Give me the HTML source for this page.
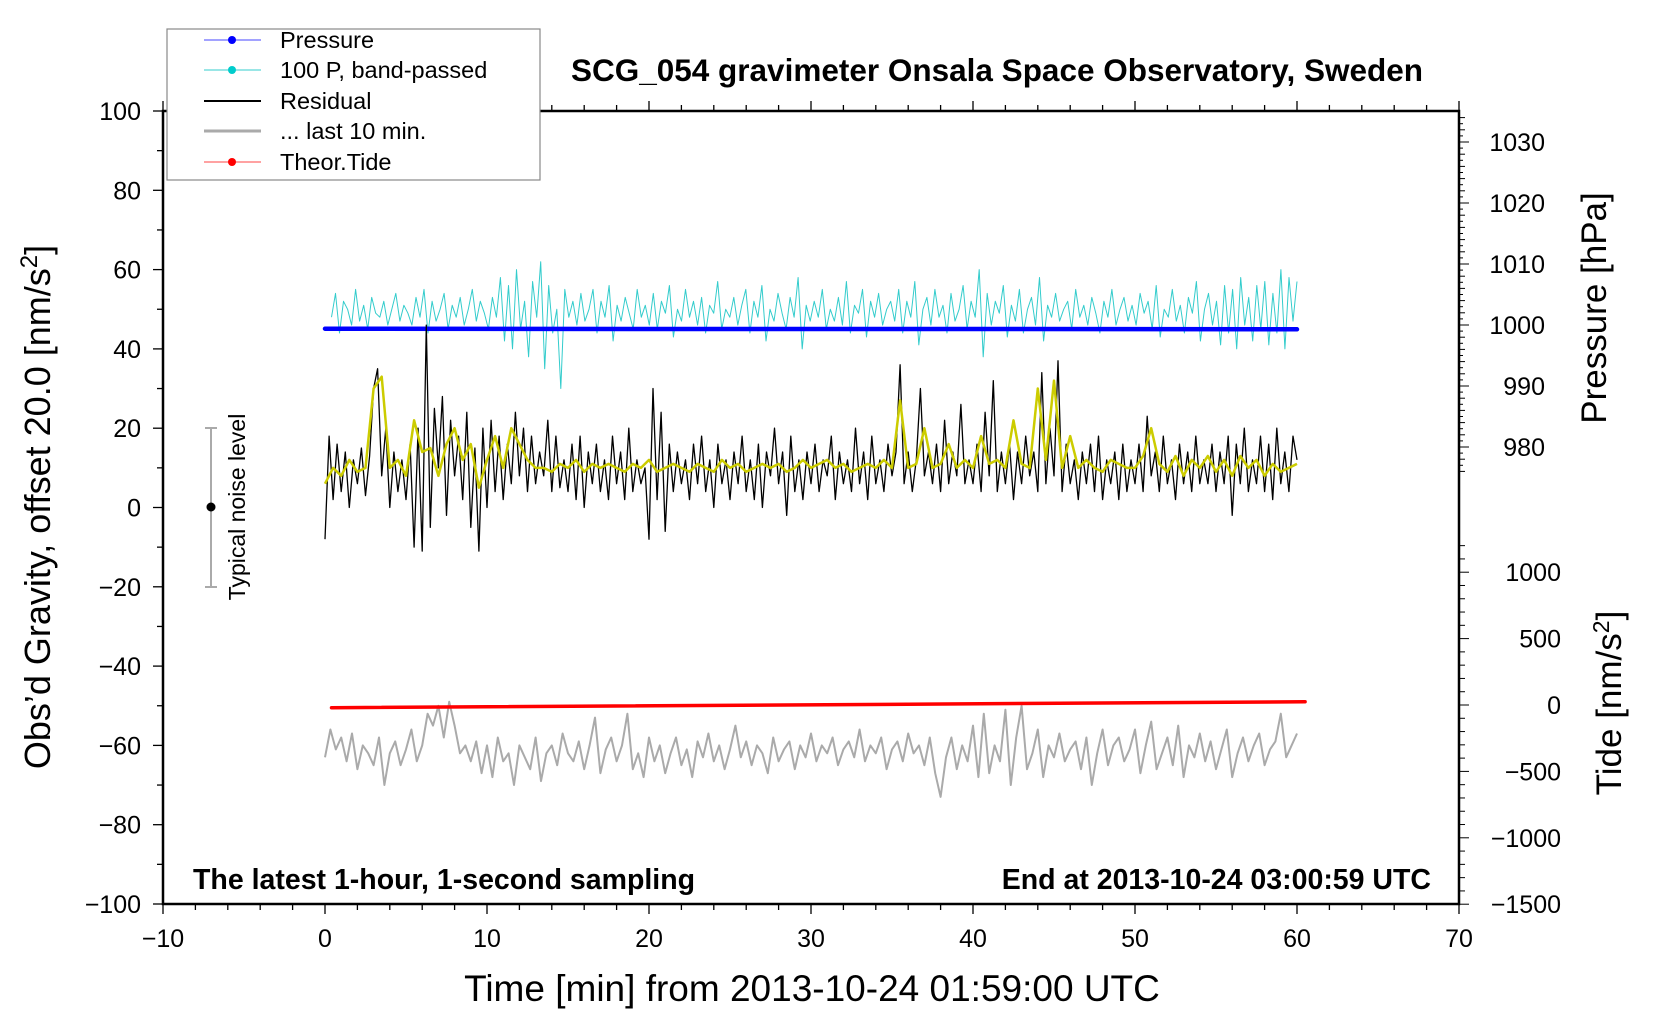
<!DOCTYPE html>
<html><head><meta charset="utf-8">
<style>
html,body{margin:0;padding:0;background:#fff;}
svg{display:block;font-family:"Liberation Sans",Arial,sans-serif;}
</style></head>
<body>
<svg id="chart" width="1660" height="1020" viewBox="0 0 1660 1020">
<rect x="0" y="0" width="1660" height="1020" fill="#fff"/>
<g id="plot"></g>
<g id="axes"></g>
<text x="997" y="81" text-anchor="middle" font-size="31.5" font-weight="bold">SCG_054 gravimeter Onsala Space Observatory, Sweden</text>
<text x="193" y="889" font-size="28.5" font-weight="bold">The latest 1-hour, 1-second sampling</text>
<text x="1431" y="889" text-anchor="end" font-size="28.5" font-weight="bold">End at 2013-10-24 03:00:59 UTC</text>
<text x="812" y="1001" text-anchor="middle" font-size="37">Time [min] from 2013-10-24 01:59:00 UTC</text>
<text transform="translate(50,507) rotate(-90)" text-anchor="middle" font-size="36">Obs’d Gravity, offset 20.0 [nm/s<tspan dy="-13" font-size="24">2</tspan><tspan dy="13">]</tspan></text>
<text transform="translate(1606,308) rotate(-90)" text-anchor="middle" font-size="35">Pressure [hPa]</text>
<text transform="translate(1621,703) rotate(-90)" text-anchor="middle" font-size="35">Tide [nm/s<tspan dy="-12" font-size="23">2</tspan><tspan dy="12">]</tspan></text>
<g>
<line x1="211" y1="428" x2="211" y2="587" stroke="#aaa" stroke-width="2"/>
<line x1="205" y1="428" x2="217" y2="428" stroke="#aaa" stroke-width="2"/>
<line x1="205" y1="587" x2="217" y2="587" stroke="#aaa" stroke-width="2"/>
<circle cx="211" cy="507" r="4.5" fill="#000"/>
<text transform="translate(245,507) rotate(-90)" text-anchor="middle" font-size="23">Typical noise level</text>
</g>
<g>
<rect x="167" y="29" width="373" height="151" fill="#fff" stroke="#888" stroke-width="1.2"/>
<g><line x1="204" y1="40" x2="261" y2="40" stroke="#4444ff" stroke-width="1"/><circle cx="232" cy="40" r="4" fill="#0000ff"/><text x="280" y="48" font-size="23.5">Pressure</text></g>
<g><line x1="204" y1="70" x2="261" y2="70" stroke="#33cccc" stroke-width="1"/><circle cx="232" cy="70" r="4" fill="#00cccc"/><text x="280" y="78" font-size="23.5">100 P, band-passed</text></g>
<g><line x1="204" y1="101" x2="261" y2="101" stroke="#000" stroke-width="2"/><text x="280" y="109" font-size="23.5">Residual</text></g>
<g><line x1="204" y1="131" x2="261" y2="131" stroke="#aaa" stroke-width="3"/><text x="280" y="139" font-size="23.5">... last 10 min.</text></g>
<g><line x1="204" y1="162" x2="261" y2="162" stroke="#ff4444" stroke-width="1"/><circle cx="232" cy="162" r="4" fill="#ff0000"/><text x="280" y="170" font-size="23.5">Theor.Tide</text></g>
</g>
</svg>
<script>
const xTicks=[-10,0,10,20,30,40,50,60,70];
const yTicks=[-100,-80,-60,-40,-20,0,20,40,60,80,100];
const pTicks=[980,990,1000,1010,1020,1030];
const tTicks=[-1500,-1000,-500,0,500,1000];
const residual=[-8,18,2,16,4,14,0,12,6,15,3,13,30,35,8,20,0,14,4,12,
2,16,-10,20,-11,46,-5,25,10,28,-2,22,8,18,2,24,-5,15,-11,20,
0,22,4,18,2,16,6,24,8,20,4,18,6,14,8,22,4,18,5,12,
4,16,2,18,0,14,6,16,4,12,2,18,6,14,2,20,4,12,6,10,
-8,30,2,24,-6,16,4,14,6,12,2,16,6,18,4,12,0,16,6,12,
2,14,6,18,4,12,2,16,0,14,8,20,6,14,-2,18,4,12,2,14,
6,16,4,12,8,18,2,14,6,12,4,20,6,14,2,18,6,12,4,16,
8,14,36,6,14,4,12,30,8,14,6,16,4,22,6,14,8,26,6,12,
6,16,4,24,8,32,4,14,6,16,2,14,6,18,8,14,4,34,6,20,
8,37,4,16,6,12,2,14,6,16,4,18,2,12,6,14,2,16,4,12,
6,16,4,23,8,14,4,18,6,12,2,16,6,14,4,18,6,12,6,16,
4,14,6,18,-2,16,6,20,4,12,6,18,4,16,2,20,6,14,4,18,12];
const smoothed=[6,10,8,12,9,10,30,33,10,12,8,22,14,15,8,16,20,12,16,5,
12,18,10,20,16,12,10,10,9,11,10,12,9,11,10,11,10,9,11,10,
12,9,10,11,10,9,11,10,9,12,10,11,9,10,11,10,11,9,10,12,
10,11,12,10,11,9,10,11,10,12,10,27,10,11,20,10,11,16,10,12,
10,18,11,12,10,22,11,10,30,12,32,10,18,10,12,10,9,12,11,10,
10,13,20,11,9,13,8,12,10,13,9,12,8,13,10,12,8,11,9,10,11];
const bandPassed=[48,54,44,52,50,46,55,47,51,45,53,49,48,52,46,50,54,47,51,49,
46,53,48,55,44,52,47,50,54,45,51,48,53,46,50,55,47,52,49,45,
53,48,58,42,56,40,60,45,52,38,57,48,62,35,56,44,50,30,55,48,
52,46,54,47,50,55,44,52,48,56,42,51,47,53,49,45,55,48,51,46,
54,45,52,49,56,43,50,47,55,48,52,46,53,44,51,49,57,45,50,48,
53,46,51,55,44,52,48,56,42,50,47,54,49,45,53,48,58,40,51,47,
52,48,55,45,50,47,53,46,57,44,51,49,55,43,52,48,54,46,50,52,
47,55,44,52,48,57,41,50,53,46,55,48,51,44,54,47,50,56,45,52,
48,60,38,54,46,52,49,56,43,51,47,55,44,50,53,46,58,42,51,48,
54,47,50,52,45,55,48,51,46,53,49,44,52,48,55,46,50,53,47,51,
46,54,49,52,45,56,43,50,48,55,47,51,44,53,49,57,42,50,54,46,
52,41,56,44,55,40,58,46,53,42,56,45,57,41,54,44,60,40,58,47,57];
const last10=[-63,-56,-61,-58,-64,-57,-66,-60,-62,-65,-58,-70,-62,-59,-65,-61,-56,-64,-60,-52,-55,-50,-58,-49,-55,-62,-60,-64,-59,-67,
-60,-68,-58,-64,-62,-70,-60,-63,-66,-58,-69,-62,-60,-65,-57,-62,-64,-59,-66,-60,-53,-67,-61,-58,-64,-60,-52,-66,-62,-68,
-58,-64,-60,-67,-62,-58,-65,-61,-68,-59,-63,-57,-64,-60,-66,-61,-55,-63,-59,-65,-60,-62,-67,-58,-64,-61,-59,-66,-60,-63,
-57,-64,-60,-62,-58,-65,-61,-59,-63,-56,-64,-60,-62,-58,-66,-61,-59,-64,-57,-62,-60,-65,-58,-67,-73,-63,-58,-66,-60,-64,
-55,-68,-52,-67,-60,-64,-51,-70,-58,-50,-66,-62,-56,-68,-60,-63,-57,-64,-61,-59,-66,-58,-70,-62,-56,-65,-60,-58,-64,-61,
-56,-67,-60,-54,-66,-62,-58,-65,-55,-68,-60,-63,-57,-64,-59,-66,-61,-56,-68,-62,-58,-64,-60,-57,-65,-61,-59,-52,-63,-60,-57];
const pressureT=[0,20,40,60];
const pressureV=[999.4,999.35,999.35,999.3];
const tideT=[0.4,60.5];
const tideV=[-20,24];

const L=163,R=1459,T=111,B=904;
const sx=v=>L+(v+10)*(R-L)/80;
const sy=v=>B-(v+100)*(B-T)/200;
const sp=v=>325-(v-1000)*6.1;
const st=v=>705-v*0.1328;
const NS='http://www.w3.org/2000/svg';
const plot=document.getElementById('plot'), axes=document.getElementById('axes');
function mk(tag,attrs,parent){const e=document.createElementNS(NS,tag);for(const k in attrs)e.setAttribute(k,attrs[k]);parent.appendChild(e);return e;}
function series(vals,t0,t1,yf,color,w,name){
  const n=vals.length;let d='';
  vals.forEach((v,i)=>{const t=t0+(t1-t0)*i/(n-1);d+=(i?'L':'M')+sx(t).toFixed(1)+' '+yf(v).toFixed(1);});
  const p=mk('path',{d:d,fill:'none',stroke:color,'stroke-width':w,'stroke-linejoin':'round'},plot);
  
  
}
function seriesXY(ts,vals,yf,color,w,name){
  let d='';vals.forEach((v,i)=>{d+=(i?'L':'M')+sx(ts[i]).toFixed(1)+' '+yf(v).toFixed(1);});
  const p=mk('path',{d:d,fill:'none',stroke:color,'stroke-width':w,'stroke-linecap':'round'},plot);
  
  
}
series(bandPassed,0.4,60,sy,'#33cccc',1,'bandpassed-pressure-line');
seriesXY(pressureT,pressureV,sp,'#0000ff',4.5,'pressure-line');
series(residual,0,60,sy,'#000',1.3,'residual-line');
series(smoothed,0,60,sy,'#cccc00',2.5,'smoothed-residual-line');
series(last10,0,60,sy,'#aaaaaa',2,'last-10-min-line');
seriesXY(tideT,tideV,st,'#ff0000',3.5,'theor-tide-line');

const fr=mk('rect',{x:L,y:T,width:R-L,height:B-T,fill:'none',stroke:'#000','stroke-width':2.5},axes);


for(let v=-10;v<=70;v+=2){const major=v%10===0;const x=sx(v);
  mk('line',{x1:x,y1:B,x2:x,y2:B+(major?10:6),stroke:'#000','stroke-width':1.3},axes);
  mk('line',{x1:x,y1:T,x2:x,y2:T-(major?10:6),stroke:'#000','stroke-width':1.3},axes);}
xTicks.forEach(v=>{const t=mk('text',{x:sx(v),y:947,'text-anchor':'middle','font-size':25},axes);t.textContent=String(v).replace('-','\u2212');
  
  });
for(let v=-100;v<=100;v+=10){const y=sy(v);mk('line',{x1:L,y1:y,x2:L-(v%20===0?10:6),y2:y,stroke:'#000','stroke-width':1.3},axes);}
yTicks.forEach(v=>{const t=mk('text',{x:141,y:sy(v)+9,'text-anchor':'end','font-size':25},axes);t.textContent=String(v).replace('-','\u2212');
  
  });
for(let v=976;v<=1034;v+=1){const y=sp(v);mk('line',{x1:R,y1:y,x2:R+(v%10===0?10:(v%2===0?6:4)),y2:y,stroke:'#000','stroke-width':1},axes);}
pTicks.forEach(v=>{const t=mk('text',{x:1545,y:sp(v)+9,'text-anchor':'end','font-size':25},axes);t.textContent=v;
  
  });
for(let v=-1500;v<=1200;v+=100){const y=st(v);mk('line',{x1:R,y1:y,x2:R+(v%500===0?10:6),y2:y,stroke:'#000','stroke-width':1},axes);}
tTicks.forEach(v=>{const t=mk('text',{x:1561,y:st(v)+9,'text-anchor':'end','font-size':25},axes);t.textContent=String(v).replace('-','\u2212');
  
  });
</script>
</body></html>
